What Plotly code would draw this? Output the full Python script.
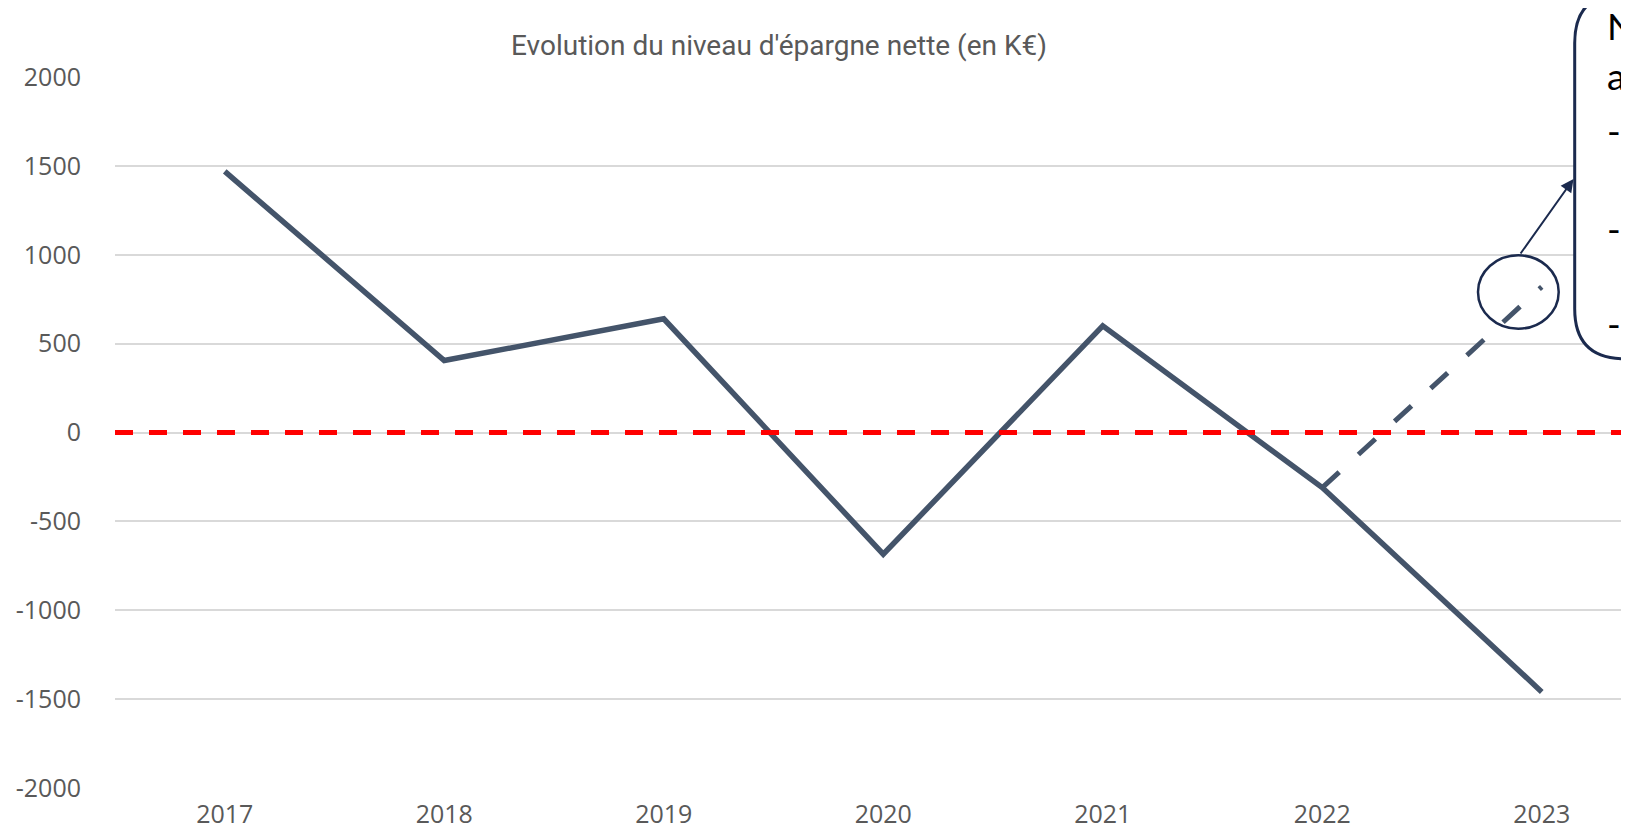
import plotly.graph_objects as go

# ---- data ----
years = ["2017", "2018", "2019", "2020", "2021", "2022", "2023"]
epargne = [1470, 405, 640, -685, 600, -310, -1460]
proj_years = ["2022", "2023"]
proj_values = [-310, 820]
threshold = 0
y_ticks = [-2000, -1500, -1000, -500, 0, 500, 1000, 1500, 2000]
y_ticktext = [str(v) for v in y_ticks]

title_text = "Evolution du niveau d'épargne nette (en K€)"
callout_lines = ["N", "au", "-", "-", "-"]

# ---- layout constants (pixels) ----
W, H = 1629, 827
ML, MR, MT, MB = 107, 0, 69, 47
PW = W - ML - MR
PH = H - MT - MB

def px_x(p):
    return (p - ML) / PW

def px_y(p):
    return (H - MB - p) / PH

NAVY = "#1B2A4E"
LINE = "#44546A"
GREY = "#595959"

fig = go.Figure()

fig.add_trace(go.Scatter(
    x=years, y=epargne, mode="lines",
    line=dict(color=LINE, width=5.5), hoverinfo="skip", showlegend=False,
))
fig.add_trace(go.Scatter(
    x=proj_years, y=proj_values, mode="lines",
    line=dict(color=LINE, width=5, dash="23px,26px"), hoverinfo="skip", showlegend=False,
))

shapes = []
# red dashed zero line
shapes.append(dict(type="line", xref="paper", yref="y", x0=0, x1=1, y0=threshold, y1=threshold,
                   line=dict(color="#FF0000", width=5, dash="18px,16px"), layer="above"))

# callout box (rounded rect, extends past right edge)
L, T, B, R, r = 1566.7, -15, 350.7, 1700, 50
path = (f"M {px_x(R)},{px_y(T)} L {px_x(L + r)},{px_y(T)} "
        f"Q {px_x(L)},{px_y(T)} {px_x(L)},{px_y(T + r)} "
        f"L {px_x(L)},{px_y(B - r)} "
        f"Q {px_x(L)},{px_y(B)} {px_x(L + r)},{px_y(B)} "
        f"L {px_x(R)},{px_y(B)} Z")
shapes.append(dict(type="path", xref="paper", yref="paper", path=path,
                   fillcolor="white", line=dict(color=NAVY, width=3), layer="above"))

# ellipse around projected point
shapes.append(dict(type="circle", xref="paper", yref="paper",
                   x0=px_x(1470), x1=px_x(1550.7), y0=px_y(320.7), y1=px_y(247.3),
                   line=dict(color=NAVY, width=2.5), layer="above"))

annotations = []
# arrow from ellipse to box
annotations.append(dict(xref="paper", yref="paper", x=px_x(1565.5), y=px_y(171),
                        ax=-54, ay=76, text="", showarrow=True, arrowhead=2,
                        arrowsize=1.3, arrowwidth=2, arrowcolor=NAVY, standoff=0))

# callout text fragments (the callout box is cut by the right edge, as in the source)
text_y = [18, 68, 123, 220, 315]
for t, yy in zip(callout_lines, text_y):
    annotations.append(dict(xref="paper", yref="paper", x=px_x(1597), y=px_y(yy),
                            xanchor="left", yanchor="middle", text=t, showarrow=False,
                            font=dict(family="Lato", size=37, color="black")))

fig.update_layout(
    width=W, height=H,
    margin=dict(l=ML, r=MR, t=MT, b=MB),
    paper_bgcolor="white", plot_bgcolor="white",
    title=dict(text=title_text, xref="container", yref="container",
               x=771 / W, xanchor="center", y=1 - 37 / H, yanchor="middle",
               font=dict(family="Roboto", size=28, color=GREY)),
    xaxis=dict(type="category", categoryorder="array", categoryarray=years,
               range=[-0.5, -0.5 + PW / 219.5], showgrid=False, zeroline=False,
               showline=False, ticks="", ticklabelstandoff=9,
               tickfont=dict(family="Open Sans", size=25, color=GREY)),
    yaxis=dict(range=[-2001, 2001], tickvals=y_ticks, ticktext=y_ticktext, showgrid=True,
               gridcolor="#D9D9D9", gridwidth=1.5, zeroline=False, showline=False,
               ticks="", ticklabelstandoff=33,
               tickfont=dict(family="Open Sans", size=25, color=GREY)),
    shapes=shapes, annotations=annotations,
    showlegend=False,
)

fig.write_html("out.html")
